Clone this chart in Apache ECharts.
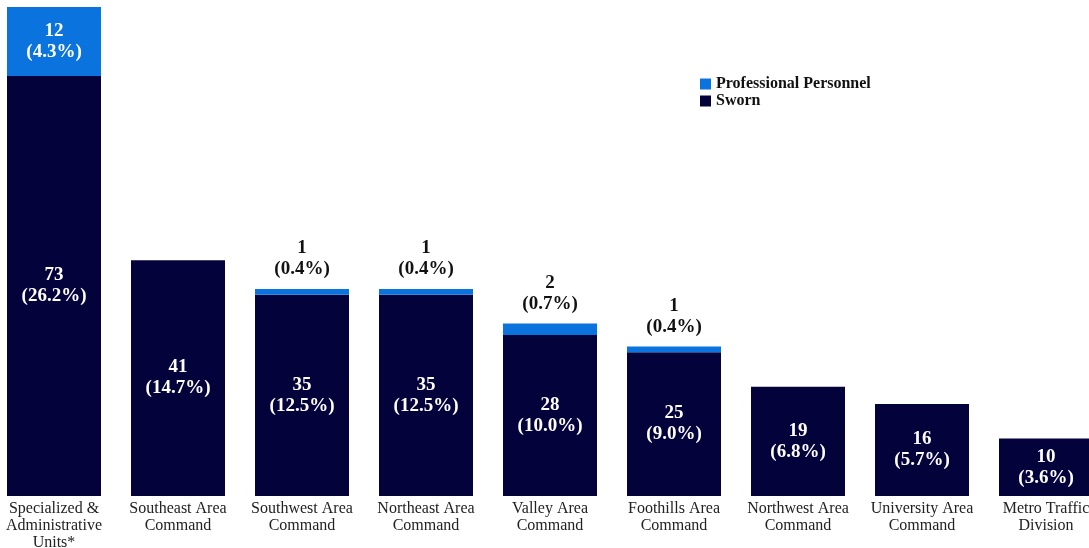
<!DOCTYPE html>
<html>
<head>
<meta charset="utf-8">
<script src="https://cdn.jsdelivr.net/npm/echarts@6/dist/echarts.min.js"></script>
<style>
  html, body { margin: 0; padding: 0; background: #fff; }
  #chart { width: 1089px; height: 548px; }
</style>
</head>
<body>
<div id="chart"></div>
<script>
// Personnel counts by command, split into sworn and professional staff
const categories = [
  'Specialized &\nAdministrative\nUnits*',
  'Southeast Area\nCommand',
  'Southwest Area\nCommand',
  'Northeast Area\nCommand',
  'Valley Area\nCommand',
  'Foothills Area\nCommand',
  'Northwest Area\nCommand',
  'University Area\nCommand',
  'Metro Traffic\nDivision'
];
const swornCounts = [73, 41, 35, 35, 28, 25, 19, 16, 10];
const swornPct = ['26.2%', '14.7%', '12.5%', '12.5%', '10.0%', '9.0%', '6.8%', '5.7%', '3.6%'];
const professionalCounts = [12, 0, 1, 1, 2, 1, 0, 0, 0];
const professionalPct = ['4.3%', '', '0.4%', '0.4%', '0.7%', '0.4%', '', '', ''];

const SERIF = '"Liberation Serif", "Times New Roman", serif';
const SWORN_COLOR = '#04023a';
const PRO_COLOR = '#0b73de';

const labelFont = { fontFamily: SERIF, fontWeight: 'bold', fontSize: 19, lineHeight: 21 };

const swornData = swornCounts.map((v, i) => ({
  value: v,
  label: {
    show: true, position: 'inside', color: '#fff', ...labelFont,
    formatter: v + '\n(' + swornPct[i] + ')'
  }
}));

const professionalData = professionalCounts.map((v, i) => {
  if (!v) return { value: 0, label: { show: false } };
  // the tall segment holds its own label; thin slivers label above the bar
  const inside = v >= 5;
  return {
    value: v,
    label: {
      show: true,
      position: inside ? 'inside' : 'top',
      distance: 9,
      color: inside ? '#fff' : '#111',
      ...labelFont,
      formatter: v + '\n(' + professionalPct[i] + ')'
    }
  };
});

const chart = echarts.init(document.getElementById('chart'));
chart.setOption({
  animation: false,
  backgroundColor: '#fff',
  grid: { left: -8, width: 1116, top: 7, bottom: 52, containLabel: false, outerBoundsMode: 'none' },
  legend: {
    data: ['Professional Personnel', 'Sworn'],
    orient: 'vertical',
    left: 695,
    top: 71,
    itemWidth: 11,
    itemHeight: 11,
    itemGap: 1,
    icon: 'rect',
    textStyle: { fontFamily: SERIF, fontWeight: 'bold', fontSize: 16, lineHeight: 16, color: '#111' }
  },
  xAxis: {
    type: 'category',
    data: categories,
    axisLine: { show: false },
    axisTick: { show: false },
    axisLabel: {
      interval: 0,
      margin: 4,
      fontFamily: SERIF,
      fontSize: 16,
      lineHeight: 17,
      color: '#222'
    }
  },
  yAxis: {
    type: 'value',
    min: 0,
    max: 85,
    show: false,
    splitLine: { show: false }
  },
  series: [
    {
      name: 'Sworn',
      type: 'bar',
      stack: 'total',
      barWidth: 94,
      itemStyle: { color: SWORN_COLOR },
      data: swornData
    },
    {
      name: 'Professional Personnel',
      type: 'bar',
      stack: 'total',
      barWidth: 94,
      itemStyle: { color: PRO_COLOR },
      data: professionalData
    }
  ]
});
</script>
</body>
</html>
